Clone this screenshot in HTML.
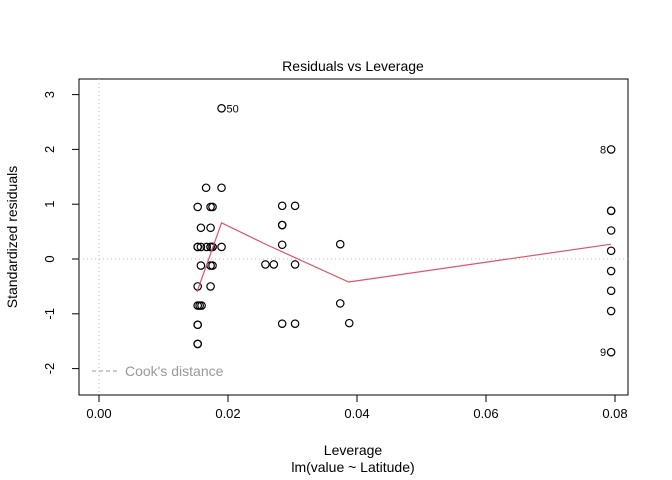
<!DOCTYPE html>
<html><head><meta charset="utf-8"><style>
body{margin:0;background:#fff}
svg{display:block;font-family:"Liberation Sans",sans-serif}
</style></head><body>
<svg id="chart" width="672" height="480"></svg>
<script>
const leverage=[0.0153,0.0153,0.0153,0.0153,0.0153,0.0156,0.0159,0.0153,0.0173,0.0158,0.0173,0.0176,0.0153,0.0173,0.0176,0.0153,0.0158,0.0167,0.0173,0.0176,0.019,0.0158,0.0173,0.0153,0.0173,0.0176,0.0166,0.019,0.019,
0.0258,0.0271,0.0304,0.0284,0.0284,0.0284,0.0284,0.0304,0.0284,0.0304,0.0374,0.0374,0.0388,
0.0794,0.0794,0.0794,0.0794,0.0794,0.0794,0.0794,0.0794,0.0794];
const residuals=[-1.55,-1.55,-1.2,-1.2,-0.85,-0.85,-0.85,-0.5,-0.5,-0.12,-0.12,-0.12,0.22,0.22,0.22,0.22,0.22,0.22,0.22,0.22,0.57,0.57,0.95,0.95,0.95,1.3,1.3,2.75,
-0.1,-0.1,-0.1,0.26,0.62,0.62,0.97,0.97,-1.18,-1.18,0.27,-0.81,-1.17,
2.0,0.88,0.88,0.52,0.15,-0.22,-0.58,-0.95,-1.7];
residuals.splice(12,0,0.22);
residuals.length=leverage.length;
const smoothX=[0.0152,0.019,0.026,0.0387,0.0794];
const smoothY=[-0.6,0.66,0.26,-0.42,0.27];
const xTicks=[0,0.02,0.04,0.06,0.08];
const xTickLabels=["0.00","0.02","0.04","0.06","0.08"];
const yTicks=[-2,-1,0,1,2,3];
const X=v=>99+v*6450, Y=v=>259-v*54.8;
const s=document.getElementById('chart'),NS="http://www.w3.org/2000/svg";
function mk(tag,attrs,txt){const e=document.createElementNS(NS,tag);for(const k in attrs)e.setAttribute(k,attrs[k]);if(txt!==undefined)e.textContent=txt;s.appendChild(e);return e;}
function findIdx(v){return residuals.indexOf(v);}
const pointLabels=[{i:findIdx(2.75),t:"50",side:1},{i:findIdx(2.0),t:"8",side:-1},{i:findIdx(-1.7),t:"9",side:-1}];
let e;
e=mk('rect',{x:79,y:79,width:549,height:316,fill:'none',stroke:'#000'});

e=mk('line',{x1:79,x2:628,y1:Y(0),y2:Y(0),stroke:'#bbb','stroke-dasharray':'1,3'});

e=mk('line',{x1:X(0),x2:X(0),y1:79,y2:395,stroke:'#bbb','stroke-dasharray':'1,3'});

xTicks.forEach((v,i)=>{
 e=mk('line',{x1:X(v),x2:X(v),y1:395,y2:402,stroke:'#000'});
 
 e=mk('text',{x:X(v),y:418,'font-size':13,'text-anchor':'middle'},xTickLabels[i]);
 
});
yTicks.forEach(v=>{
 e=mk('line',{x1:72,x2:79,y1:Y(v),y2:Y(v),stroke:'#000'});
 
 e=mk('text',{x:0,y:0,'font-size':13,'text-anchor':'middle',transform:`translate(54,${Y(v)}) rotate(-90)`},String(v));
 
});
leverage.forEach((lv,i)=>{
 e=mk('circle',{cx:X(lv),cy:Y(residuals[i]),r:3.7,fill:'none',stroke:'#000','stroke-width':1.2});
 
});
e=mk('polyline',{points:smoothX.map((v,i)=>X(v)+','+Y(smoothY[i])).join(' '),fill:'none',stroke:'#DF536B','stroke-width':1.2});

pointLabels.forEach(p=>{
 e=mk('text',{x:X(leverage[p.i])+p.side*5,y:Y(residuals[p.i])+4,'font-size':11,'text-anchor':p.side>0?'start':'end'},p.t);
 
});
e=mk('line',{x1:92,x2:120,y1:371,y2:371,stroke:'#999','stroke-dasharray':'4,3'});

e=mk('text',{x:125,y:376,'font-size':14,fill:'#999'},"Cook's distance");

e=mk('text',{x:353,y:71,'font-size':14,'text-anchor':'middle'},'Residuals vs Leverage');

e=mk('text',{x:353,y:455,'font-size':14,'text-anchor':'middle'},'Leverage');

e=mk('text',{x:353,y:472,'font-size':14,'text-anchor':'middle'},'lm(value ~ Latitude)');

e=mk('text',{x:0,y:0,'font-size':14,'text-anchor':'middle',transform:'translate(17,237) rotate(-90)'},'Standardized residuals');

</script>
</body></html>
